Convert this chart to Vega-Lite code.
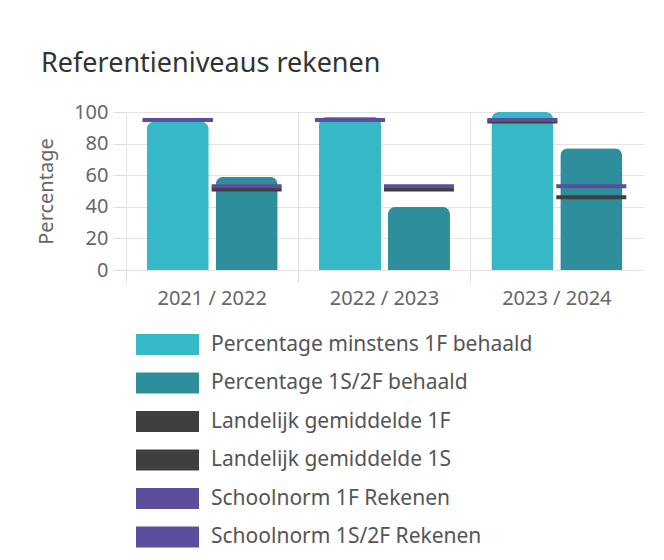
{
  "$schema": "https://vega.github.io/schema/vega-lite/v6.json",
  "width": 517,
  "height": 158,
  "autosize": "none",
  "padding": {"left": 126, "top": 112, "right": 21, "bottom": 290},
  "background": "white",
  "title": {"text": "Referentieniveaus rekenen", "anchor": "start", "frame": "group", "dx": -85, "offset": 24, "fontSize": 27, "font": "Noto Sans", "fontWeight": "normal", "color": "#333333"},
  "config": {"view": {"stroke": null}, "font": "Noto Sans"},
  "data": {"values": [
    {"year": "2021 / 2022", "kind": "bar", "level": "1F", "series": "Percentage minstens 1F behaald", "value": 94},
    {"year": "2021 / 2022", "kind": "bar", "level": "1S", "series": "Percentage 1S/2F behaald", "value": 59},
    {"year": "2022 / 2023", "kind": "bar", "level": "1F", "series": "Percentage minstens 1F behaald", "value": 97},
    {"year": "2022 / 2023", "kind": "bar", "level": "1S", "series": "Percentage 1S/2F behaald", "value": 40},
    {"year": "2023 / 2024", "kind": "bar", "level": "1F", "series": "Percentage minstens 1F behaald", "value": 100},
    {"year": "2023 / 2024", "kind": "bar", "level": "1S", "series": "Percentage 1S/2F behaald", "value": 77},
    {"year": "2021 / 2022", "kind": "line", "level": "1F", "series": "Landelijk gemiddelde 1F", "value": 95},
    {"year": "2022 / 2023", "kind": "line", "level": "1F", "series": "Landelijk gemiddelde 1F", "value": 95},
    {"year": "2023 / 2024", "kind": "line", "level": "1F", "series": "Landelijk gemiddelde 1F", "value": 94},
    {"year": "2021 / 2022", "kind": "line", "level": "1S", "series": "Landelijk gemiddelde 1S", "value": 51},
    {"year": "2022 / 2023", "kind": "line", "level": "1S", "series": "Landelijk gemiddelde 1S", "value": 51},
    {"year": "2023 / 2024", "kind": "line", "level": "1S", "series": "Landelijk gemiddelde 1S", "value": 46},
    {"year": "2021 / 2022", "kind": "line", "level": "1F", "series": "Schoolnorm 1F Rekenen", "value": 95},
    {"year": "2022 / 2023", "kind": "line", "level": "1F", "series": "Schoolnorm 1F Rekenen", "value": 95},
    {"year": "2023 / 2024", "kind": "line", "level": "1F", "series": "Schoolnorm 1F Rekenen", "value": 95},
    {"year": "2021 / 2022", "kind": "line", "level": "1S", "series": "Schoolnorm 1S/2F Rekenen", "value": 53},
    {"year": "2022 / 2023", "kind": "line", "level": "1S", "series": "Schoolnorm 1S/2F Rekenen", "value": 53},
    {"year": "2023 / 2024", "kind": "line", "level": "1S", "series": "Schoolnorm 1S/2F Rekenen", "value": 53}
  ]},
  "encoding": {
    "x": {
      "field": "year", "type": "nominal", "sort": null,
      "scale": {"paddingInner": 0, "paddingOuter": 0},
      "axis": {"title": null, "labelAngle": 0, "bandPosition": 0, "grid": true, "gridColor": "#e3e3e3", "domain": false, "ticks": true, "tickColor": "#dcdcdc", "tickSize": 12, "labelFontSize": 20, "labelColor": "#666666", "labelPadding": 6, "labelFont": "Noto Sans"}
    },
    "xOffset": {"field": "level", "type": "nominal", "scale": {"domain": ["1F", "1S"], "paddingInner": 0.1, "paddingOuter": 0.3}},
    "y": {
      "field": "value", "type": "quantitative",
      "scale": {"domain": [0, 100], "nice": false},
      "axis": {"title": "Percentage", "values": [0, 20, 40, 60, 80, 100], "domain": false, "ticks": true, "tickColor": "#dcdcdc", "tickSize": 13, "gridColor": "#e3e3e3", "labelFontSize": 20, "labelColor": "#666666", "labelPadding": 5, "titleFontSize": 20, "titleFontWeight": "normal", "titleColor": "#666666", "titlePadding": 17, "labelFont": "Noto Sans", "titleFont": "Noto Sans"}
    },
    "color": {
      "field": "series", "type": "nominal",
      "scale": {
        "domain": ["Percentage minstens 1F behaald", "Percentage 1S/2F behaald", "Landelijk gemiddelde 1F", "Landelijk gemiddelde 1S", "Schoolnorm 1F Rekenen", "Schoolnorm 1S/2F Rekenen"],
        "range": ["#36b8c6", "#2e8e9b", "#3f3f3f", "#3f3f3f", "#5c4e9c", "#5c4e9c"]
      },
      "legend": {
        "orient": "none", "legendX": 10, "legendY": 222, "direction": "vertical", "title": null,
        "symbolType": "M-1,-1H5V1H-1Z", "symbolSize": 441, "symbolStrokeWidth": 0,
        "labelFontSize": 21, "labelColor": "#555555", "labelOffset": 54, "rowPadding": 16.5, "labelFont": "Noto Sans", "labelLimit": 500,
        "encode": {"symbols": {"update": {"fill": {"scale": "color", "field": "value"}, "opacity": {"value": 1}, "strokeWidth": {"value": 0}}}}
      }
    }
  },
  "layer": [
    {
      "transform": [{"filter": "datum.kind == 'bar'"}],
      "mark": {"type": "bar", "cornerRadiusTopLeft": 8, "cornerRadiusTopRight": 8, "opacity": 1}
    },
    {
      "transform": [{"filter": "datum.kind == 'line'"}],
      "mark": {"type": "tick", "size": 70, "thickness": 4, "opacity": 1}
    }
  ]
}
